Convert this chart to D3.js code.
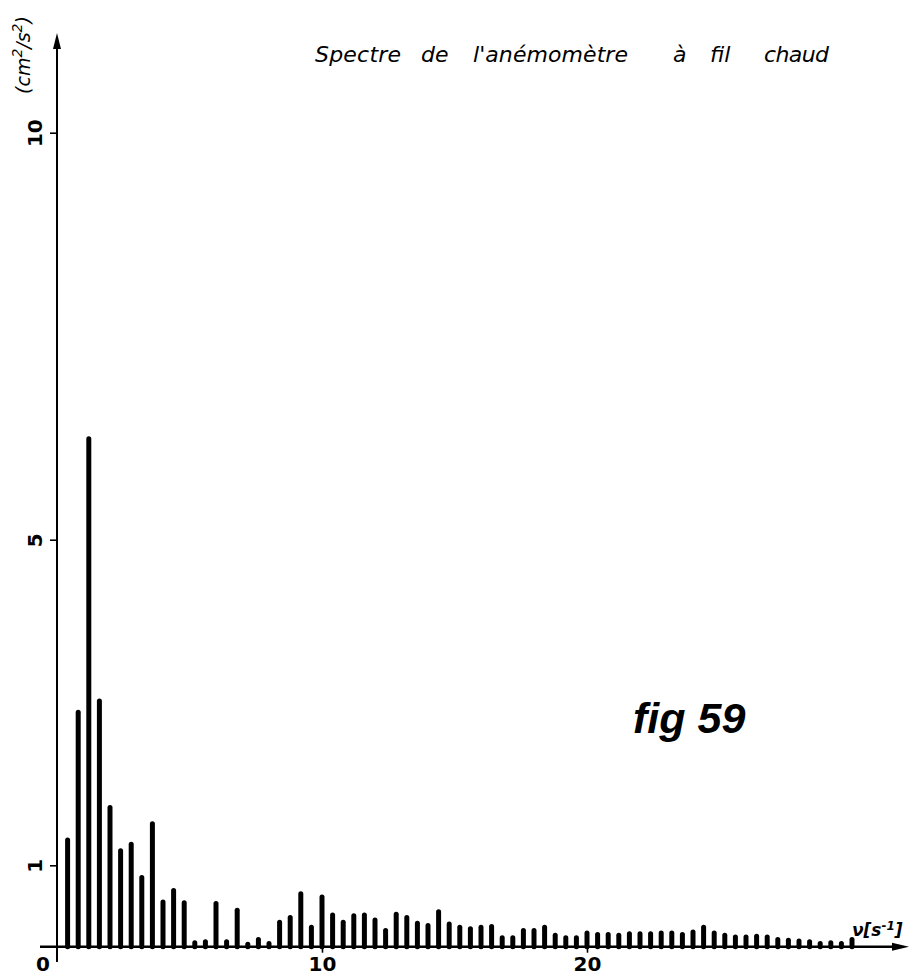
<!DOCTYPE html>
<html>
<head>
<meta charset="utf-8">
<script src="https://cdn.jsdelivr.net/npm/d3@7"></script>
<style>
  html, body { margin: 0; padding: 0; background: #fff; }
  svg { display: block; }
</style>
</head>
<body>
<svg id="chart" width="922" height="978"></svg>
<script>
// ---- data ----
const binWidth = 0.4; // spacing between spectral lines (s^-1)
const harmonic = [1,2,3,4,5,6,7,8,9,10,11,12,13,14,15,16,17,18,19,20,21,22,23,24,25,
  26,27,28,29,30,31,32,33,34,35,36,37,38,39,40,41,42,43,44,45,46,47,48,49,50,
  51,52,53,54,55,56,57,58,59,60,61,62,63,64,65,66,67,68,69,70,71,72,73,74,75];
const power = [1.34,2.91,6.27,3.05,1.74,1.21,1.29,0.88,1.54,0.58,0.72,0.57,0.08,0.09,0.56,
  0.09,0.48,0.06,0.12,0.07,0.33,0.39,0.68,0.27,0.64,
  0.42,0.33,0.41,0.42,0.36,0.23,0.43,0.39,0.32,0.29,0.46,0.31,0.27,0.25,0.27,
  0.28,0.14,0.14,0.23,0.23,0.27,0.17,0.14,0.14,0.20,
  0.18,0.18,0.17,0.19,0.19,0.19,0.20,0.20,0.18,0.21,0.27,0.20,0.17,0.15,0.15,
  0.16,0.15,0.12,0.11,0.10,0.09,0.07,0.08,0.07,0.12];
const xTicks = [10, 20];
const xTickLabels = ["10", "20"];
const yTicks = [1, 5, 10];
const yTickLabels = ["1", "5", "10"];
const titleWords = ["Spectre", "de", "l'anémomètre", "à", "fil", "chaud"];
const figLabel = "fig 59";

const svg = d3.select("#chart");
const x = d3.scaleLinear().domain([0, 10]).range([57, 322]);
const y = d3.scaleLinear().domain([0, 10]).range([946.7, 132.7]);
const ink = "#000";
const barW = 5;
const font = "DejaVu Sans, sans-serif";

// bars (pen strokes with rounded tops)
const data = harmonic.map((k, i) => ({ f: k * binWidth, v: power[i] }));
svg.append("g").selectAll("line").data(data).join("line")
  .attr("x1", d => x(d.f)).attr("x2", d => x(d.f))
  .attr("y1", y(0))
  .attr("y2", d => Math.min(y(d.v) + barW / 2, y(0) - 0.5))
  .attr("stroke", ink).attr("stroke-width", barW).attr("stroke-linecap", "round");

// axes
const axes = svg.append("g").attr("stroke", ink).attr("fill", "none");
axes.append("line").attr("x1", 40).attr("x2", 900).attr("y1", y(0)).attr("y2", y(0)).attr("stroke-width", 2.4);
axes.append("line").attr("x1", x(0)).attr("x2", x(0)).attr("y1", 962).attr("y2", 42).attr("stroke-width", 2);
// arrowheads
svg.append("path").attr("d", `M${x(0)},33 L${x(0)-4},49 L${x(0)+4},49 Z`).attr("fill", ink);
svg.append("path").attr("d", `M909,${y(0)} L892,${y(0)-4} L892,${y(0)+4} Z`).attr("fill", ink);

// y ticks
const yAxis = d3.axisLeft(y).tickValues(yTicks).tickSize(7).tickFormat((d, i) => yTickLabels[i]);
const gy = svg.append("g").attr("transform", `translate(${x(0)},0)`).call(yAxis);
gy.select(".domain").remove();
gy.selectAll(".tick line").attr("stroke", ink).attr("stroke-width", 1.6);
gy.selectAll(".tick text")
  .attr("x", null).attr("dy", null)
  .attr("transform", "translate(-15,0) rotate(-90)")
  .attr("text-anchor", "middle")
  .attr("font-family", font).attr("font-weight", "bold")
  .attr("font-size", 20).attr("fill", ink);

// x ticks
const xAxis = d3.axisBottom(x).tickValues(xTicks).tickSize(6).tickFormat((d, i) => xTickLabels[i]);
const gx = svg.append("g").attr("transform", `translate(0,${y(0)})`).call(xAxis);
gx.select(".domain").remove();
gx.selectAll(".tick line").attr("stroke", ink).attr("stroke-width", 1.6);
gx.selectAll(".tick text").attr("dy", null).attr("y", 24)
  .attr("font-family", font).attr("font-weight", "bold")
  .attr("font-size", 20).attr("fill", ink);

// origin label
svg.append("text").attr("x", 43).attr("y", 971).attr("text-anchor", "middle")
  .attr("font-family", font).attr("font-weight", "bold")
  .attr("font-size", 20).attr("fill", ink).text("0");

// y unit label (cm²/s²), rotated
const yl = svg.append("text").attr("transform", "translate(30,55) rotate(-90)")
  .attr("text-anchor", "middle")
  .attr("font-family", font).attr("font-style", "italic")
  .attr("font-size", 19).attr("fill", ink);
yl.append("tspan").text("(cm");
yl.append("tspan").attr("dy", -8).attr("font-size", 14).text("2");
yl.append("tspan").attr("dy", 8).text("/s");
yl.append("tspan").attr("dy", -8).attr("font-size", 14).text("2");
yl.append("tspan").attr("dy", 8).text(")");

// title, word by word
const wordPos = [[315, 86], [421, 0], [473, 155], [673, 0], [710, 0], [764, 65]];
svg.append("g").selectAll("text").data(titleWords).join("text")
  .attr("x", (d, i) => wordPos[i][0]).attr("y", 62)
  .each(function (d, i) {
    if (wordPos[i][1] > 0) d3.select(this).attr("textLength", wordPos[i][1]).attr("lengthAdjust", "spacing");
  })
  .attr("font-family", font).attr("font-style", "italic")
  .attr("font-size", 22).attr("fill", ink).text(d => d);

// figure label
svg.append("text").attr("x", 633).attr("y", 733)
  .attr("font-family", "Liberation Sans, sans-serif").attr("font-style", "italic").attr("font-weight", "bold")
  .attr("font-size", 43).attr("fill", ink).text(figLabel);

// x unit label
const xl = svg.append("text").attr("x", 852).attr("y", 936)
  .attr("font-family", font).attr("font-style", "italic").attr("font-weight", "bold")
  .attr("font-size", 17).attr("fill", ink);
xl.append("tspan").text("ν[s");
xl.append("tspan").attr("dy", -6).attr("font-size", 12).text("-1");
xl.append("tspan").attr("dy", 6).text("]");
</script>
</body>
</html>
